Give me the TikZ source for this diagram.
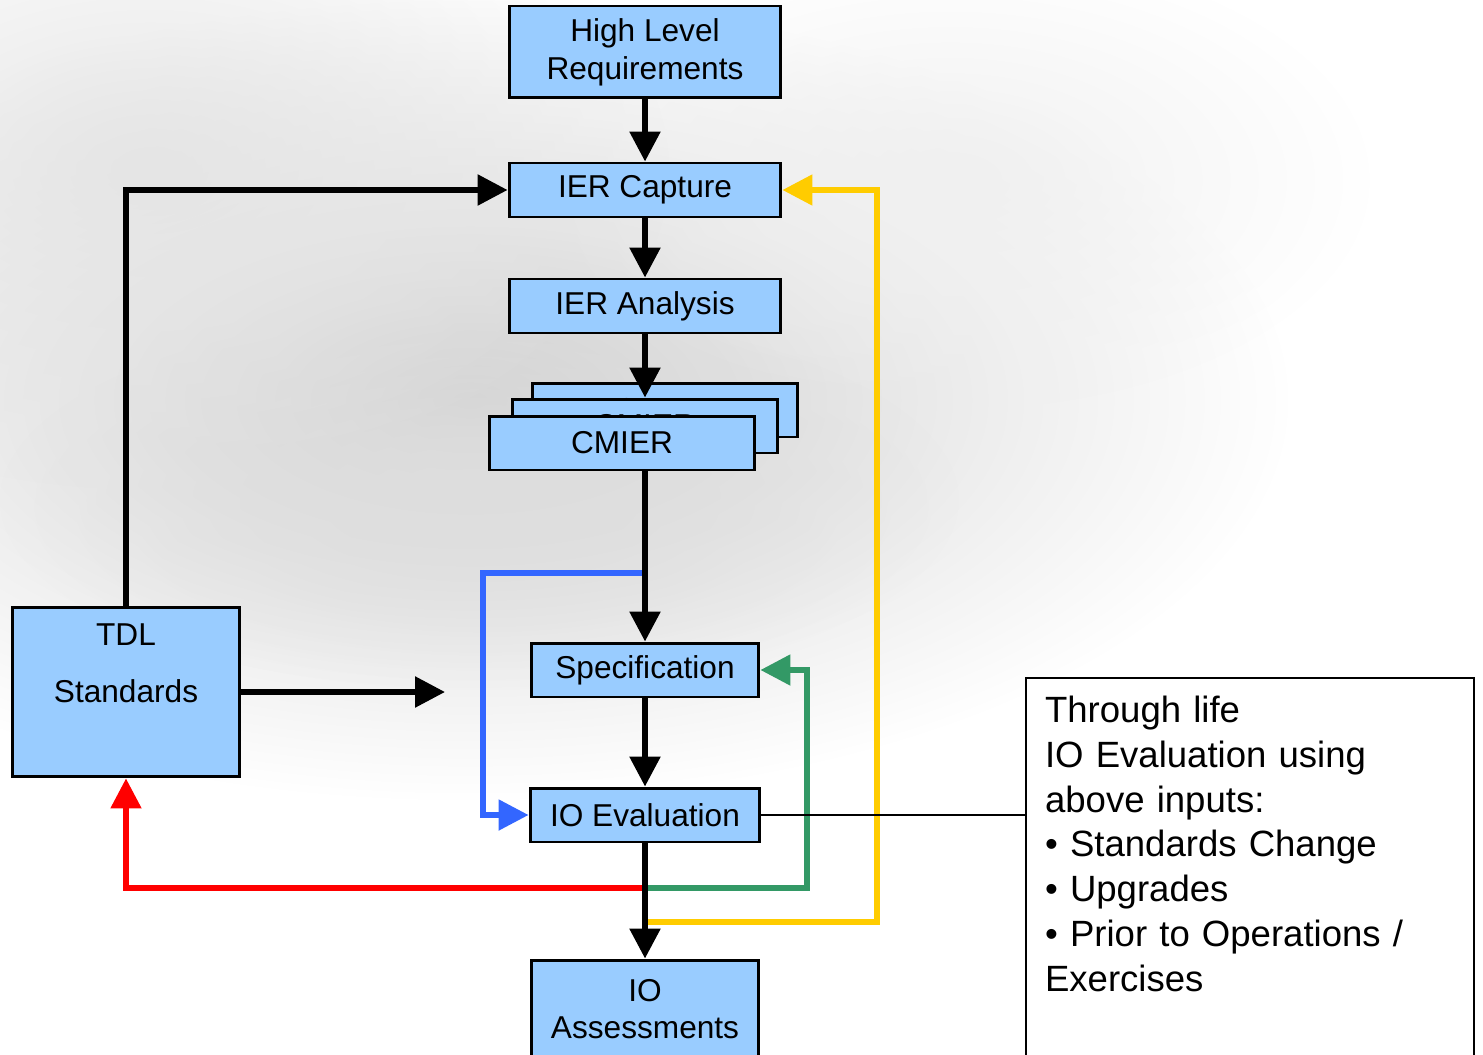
\documentclass[tikz,border=0pt]{standalone}
\usepackage{fontspec}
\setmainfont{Liberation Sans}
\usetikzlibrary{arrows.meta,fadings}

\definecolor{boxblauw}{RGB}{153,204,255}
\definecolor{rood}{RGB}{255,0,0}
\definecolor{blauw}{RGB}{51,102,255}
\definecolor{groen}{RGB}{51,153,102}
\definecolor{geel}{RGB}{255,204,0}

\tikzfading[name=vervaag, inner color=transparent!0, outer color=transparent!100]

\tikzset{
  box/.style={draw, line width=1.7pt, fill=boxblauw, inner sep=0pt, align=center,
    font=\fontsize{18pt}{21.5pt}\selectfont},
  pijl/.style={line width=3.2pt, -{Triangle[length=0.6cm,width=0.6cm]}},
  lus/.style={line width=3pt, -{Triangle[length=0.6cm,width=0.6cm]}},
}

\begin{document}
\begin{tikzpicture}[x=0.02cm, y=-0.02cm]
\useasboundingbox (0,0) rectangle (1483,1054);

% Achtergrond (grijze waas)
\fill[white] (0,0) rectangle (1483,1054);
\fill[black!18, path fading=vervaag] (470,400) ellipse [x radius=820, y radius=400];
\fill[black!13, path fading=vervaag] (480,500) ellipse [x radius=480, y radius=190];
\fill[black!10, path fading=vervaag] (150,170) ellipse [x radius=520, y radius=320];
\fill[black!6, path fading=vervaag] (950,180) ellipse [x radius=420, y radius=230];

% Blokken
\node[box, minimum width=5.44cm, minimum height=1.84cm] (hlr) at (645,52) {High Level\\Requirements};
\node[box, minimum width=5.44cm, minimum height=1.08cm] (capture) at (645,190) {IER Capture};
\node[box, minimum width=5.44cm, minimum height=1.08cm] (analysis) at (645,306) {IER Analysis};

% CMIER stapel
\node[box, minimum width=5.3cm, minimum height=1.08cm] (cmier3) at (665,410) {CMIER};
\node[box, minimum width=5.3cm, minimum height=1.08cm] (cmier2) at (645,426) {CMIER};
\node[box, minimum width=5.3cm, minimum height=1.08cm] (cmier) at (622,443) {CMIER};

\node[box, minimum width=4.56cm, minimum height=1.08cm] (spec) at (645,670) {Specification};
\node[box, minimum width=4.6cm, minimum height=1.08cm] (eval) at (645,815) {IO Evaluation};
\node[box, minimum width=4.56cm, minimum height=1.96cm] (assess) at (645,1009) {IO\\Assessments};
\node[box, minimum width=4.56cm, minimum height=3.4cm] (tdl) at (126,692) {TDL\\[0.4cm]Standards\\[0.4cm]\mbox{}};

% Toelichting
\node[draw, fill=white, line width=1.2pt, anchor=north west, inner xsep=0.38cm, inner ysep=0.36cm,
  text width=8.2cm, align=left, font=\fontsize{20.8pt}{25.5pt}\selectfont] (note) at (1025,677)
  {Through life\\IO Evaluation using\\above inputs:\\• Standards Change\\• Upgrades\\• Prior to Operations /\\Exercises\\[2cm]\mbox{}};

% Splitspunten
\coordinate (bsplit) at (645,573);
\coordinate (rsplit) at (645,888);
\coordinate (ysplit) at (645,922);
\coordinate (tdlend) at (445,692);

% Terugkoppelingen
\draw[lus, blauw] (bsplit) -- (483,573) |- (eval.west);
\draw[lus, rood] (rsplit) -| (tdl.south);
\draw[lus, groen] (rsplit) -- (807,888) |- (spec.east);
\draw[lus, geel] (ysplit) -- (877,922) |- (capture.east);

% Hoofdlijn
\draw[pijl] (hlr) -- (capture);
\draw[pijl] (capture) -- (analysis);
\draw[pijl] (analysis.south) -- (cmier2.north);
\draw[pijl] (cmier.south -| spec.north) -- (spec.north);
\draw[pijl] (spec) -- (eval);
\draw[pijl] (eval) -- (assess);

% TDL lijnen
\draw[pijl] (tdl.north) |- (capture.west);
\draw[pijl] (tdl.east) -- (tdlend);
\draw[line width=1.2pt] (eval.east) -- (eval.east -| note.west);
\end{tikzpicture}
\end{document}
